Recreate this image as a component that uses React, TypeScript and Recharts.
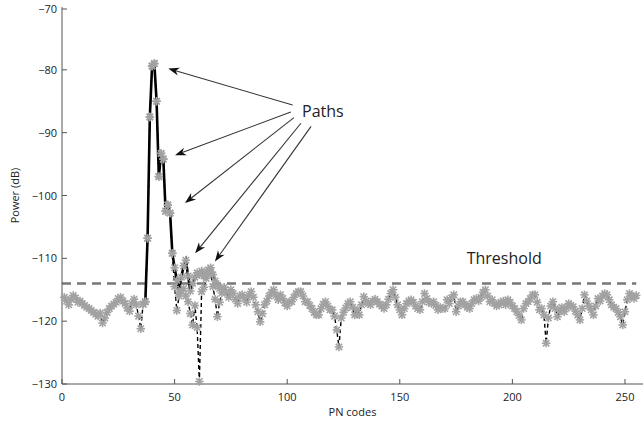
import { LineChart, Line, XAxis, YAxis, ReferenceLine, ReferenceDot } from "recharts";

// received power per PN code (codes 1..255)
const measured = [
  -116.2, -116.8, -117.4, -116.5, -115.9, -116.3, -117.0, -116.8, -117.2, -117.5,
  -117.8, -118.0, -118.3, -118.6, -118.9, -119.2, -118.7, -120.3, -119.5, -118.6,
  -118.0, -117.6, -117.3, -117.0, -116.4, -116.2, -116.8, -117.2, -117.9, -118.4,
  -117.2, -116.5, -117.4, -119.2, -121.2, -117.3, -116.9, -106.8, -87.5, -79.4,
  -79.0, -85.0, -97.0, -93.3, -94.2, -102.5, -101.5, -102.8, -109.2, -114.5,
  -118.3, -116.0, -115.2, -114.8, -116.0, -116.9, -118.8, -120.6, -117.5, -121.0,
  -129.6, -115.3, -114.6, -113.2, -112.5, -112.2, -114.5, -116.5, -119.3, -117.0,
  -115.5, -114.6, -115.4, -116.2, -115.0, -115.6, -116.5, -117.2, -116.0, -115.8,
  -116.4, -117.0, -115.9, -115.3, -116.2, -117.4, -118.5, -120.1, -118.8, -117.4,
  -116.8, -116.0, -115.4, -115.0, -115.9, -116.6, -115.8, -116.4, -117.1, -117.6,
  -116.9, -116.9, -116.2, -115.6, -115.3, -115.3, -116.0, -116.9, -116.9, -117.5,
  -118.0, -118.6, -119.0, -119.0, -118.0, -117.3, -116.9, -117.6, -118.2, -118.2,
  -119.2, -121.4, -124.1, -119.5, -118.6, -117.9, -117.2, -116.9, -117.8, -119.0,
  -118.2, -119.0, -117.4, -116.1, -116.8, -117.2, -117.4, -116.8, -116.5, -116.9,
  -117.3, -117.6, -118.0, -117.4, -116.5, -115.6, -115.0, -116.2, -117.4, -118.2,
  -119.0, -118.0, -117.2, -116.8, -116.6, -117.0, -117.6, -118.0, -118.2, -116.9,
  -115.6, -116.4, -117.0, -117.2, -116.9, -117.5, -118.2, -117.8, -118.0, -118.0,
  -116.6, -117.2, -116.3, -115.8, -118.5, -117.6, -116.9, -116.9, -117.4, -117.8,
  -118.0, -117.2, -116.6, -116.4, -116.8, -116.2, -115.4, -115.0, -116.0, -116.9,
  -116.6, -117.2, -117.6, -117.4, -117.0, -116.8, -117.4, -116.6, -117.0, -117.6,
  -118.0, -118.5, -119.1, -119.8, -118.0, -117.2, -116.9, -116.4, -115.8, -115.8,
  -117.0, -118.2, -118.0, -119.0, -123.5, -119.5, -117.6, -116.9, -118.0, -119.3,
  -118.4, -117.8, -118.5, -117.9, -117.2, -117.5, -117.7, -118.4, -119.0, -119.8,
  -118.0, -115.8, -116.8, -117.6, -118.2, -119.0, -117.6, -116.4, -116.8, -116.0,
  -115.6, -115.8, -116.6, -117.4, -117.8, -118.0, -118.6, -119.3, -120.6, -118.5,
  -116.6, -115.6, -116.0, -116.4, -115.9,
];

// resolved multipath profile, codes 36..70
const pathCodes = [
  36, 37, 38, 39, 40, 41, 42, 43, 44, 45, 46, 47, 48, 49, 50, 51, 52, 53,
  54, 55, 56, 57, 58, 59, 60, 61, 62, 63, 64, 65, 66, 67, 68, 69, 70,
];
const pathValues = [
  -117.3, -116.9, -106.8, -87.5, -79.4, -79.0, -85.0, -97.0, -93.3, -94.2,
  -102.5, -101.5, -102.8, -109.2, -111.5, -113.5, -115.3, -113.0, -111.2, -110.3,
  -112.8, -115.2, -114.0, -113.0, -112.3, -112.6, -112.0, -112.8, -112.5, -111.8,
  -111.5, -112.6, -113.6, -114.3, -114.8,
];

const threshold = -114;
const xTicks = [0, 50, 100, 150, 200, 250];
const yTicks = [-130, -120, -110, -100, -90, -80, -70];

// annotation arrows: from the "Paths" label to each path peak
const arrowFrom = [
  { x: 102.4, y: -85.6 },
  { x: 101.6, y: -86.7 },
  { x: 103.0, y: -87.6 },
  { x: 106.1, y: -88.5 },
  { x: 110.6, y: -89.0 },
];
const arrowTo = [
  { x: 47.2, y: -79.8 },
  { x: 50.2, y: -93.6 },
  { x: 54.6, y: -101.2 },
  { x: 59.1, y: -109.2 },
  { x: 67.9, y: -110.5 },
];

const rows = measured.map((v, i) => {
  const code = i + 1;
  const k = pathCodes.indexOf(code);
  return { code, measured: v, path: k >= 0 ? pathValues[k] : null };
});

const FONT = "'Open Sans', sans-serif";
const AXIS = "#555";

const minus = (v: number) => (v < 0 ? "\u2212" + Math.abs(v) : String(v));

const Star = (props: any) => {
  const { cx, cy, value, index } = props;
  if (cx == null || cy == null || value == null) return <g key={`s-${index}`} />;
  const a = 3.2;
  const b = 4.2;
  return (
    <g key={`s-${index}`} stroke="#a2a2a2" strokeWidth={1.6}>
      <line x1={cx - a} y1={cy - a} x2={cx + a} y2={cy + a} />
      <line x1={cx - a} y1={cy + a} x2={cx + a} y2={cy - a} />
      <line x1={cx} y1={cy - b} x2={cx} y2={cy + b} />
      <line x1={cx - b} y1={cy} x2={cx + b} y2={cy} />
    </g>
  );
};

const BottomTick = (props: any) => {
  const { x, y, payload } = props;
  return (
    <g>
      <line x1={x} y1={y} x2={x} y2={y - 5} stroke={AXIS} />
      <text x={x} y={y + 17} textAnchor="middle" fontSize={11} fontFamily={FONT} fill="#222">
        {payload.value}
      </text>
    </g>
  );
};

const TopTick = (props: any) => {
  const { x, y } = props;
  return <line x1={x} y1={y} x2={x} y2={y + 5} stroke={AXIS} />;
};

const LeftTick = (props: any) => {
  const { x, y, payload } = props;
  return (
    <g>
      <line x1={x} y1={y} x2={x + 5} y2={y} stroke={AXIS} />
      <text x={x - 5} y={y + 4} textAnchor="end" fontSize={11} fontFamily={FONT} fill="#222">
        {minus(payload.value)}
      </text>
    </g>
  );
};

const RightTick = (props: any) => {
  const { x, y } = props;
  return <line x1={x} y1={y} x2={x - 5} y2={y} stroke={AXIS} />;
};

const Arrow = (props: any) => {
  const { x1, y1, x2, y2 } = props;
  if ([x1, y1, x2, y2].some((v) => v == null)) return <g />;
  const ang = Math.atan2(y2 - y1, x2 - x1);
  const len = 11;
  const half = 4;
  const cos = Math.cos(ang);
  const sin = Math.sin(ang);
  const bx = x2 - len * cos;
  const by = y2 - len * sin;
  const nx = x2 - len * 0.7 * cos;
  const ny = y2 - len * 0.7 * sin;
  const pts = [
    [x2, y2],
    [bx - half * sin, by + half * cos],
    [nx, ny],
    [bx + half * sin, by - half * cos],
  ]
    .map((p) => p.join(","))
    .join(" ");
  return (
    <g>
      <line x1={x1} y1={y1} x2={nx} y2={ny} stroke="#333" strokeWidth={1.1} />
      <polygon points={pts} fill="#111" />
    </g>
  );
};

const Note = (text: string) => (props: any) => (
  <text x={props.cx} y={props.cy} fontSize={16} fontFamily={FONT} fill="#222">
    {text}
  </text>
);

export default function App() {
  return (
    <div style={{ position: "absolute", left: 0, top: 0, width: 644, height: 424, background: "#fff" }}>
      <LineChart width={644} height={424} data={rows} margin={{ top: 7, right: 1, bottom: 0, left: 0 }}>
        <XAxis
          dataKey="code"
          type="number"
          domain={[0, 258]}
          ticks={xTicks}
          height={40}
          tickSize={0}
          tickMargin={0}
          tickLine={false}
          axisLine={{ stroke: AXIS }}
          tick={<BottomTick />}
          label={(p: any) => (
            <text
              x={p.viewBox.x + p.viewBox.width / 2}
              y={p.viewBox.y + 32}
              textAnchor="middle"
              fontSize={11}
              fontFamily={FONT}
              fill="#222"
            >
              PN codes
            </text>
          )}
        />
        <XAxis
          xAxisId="top"
          orientation="top"
          dataKey="code"
          type="number"
          domain={[0, 258]}
          ticks={xTicks}
          height={0}
          tickSize={0}
          tickMargin={0}
          tickLine={false}
          axisLine={{ stroke: AXIS }}
          tick={<TopTick />}
        />
        <YAxis
          type="number"
          domain={[-130, -70]}
          ticks={yTicks}
          width={62}
          tickSize={0}
          tickMargin={0}
          tickLine={false}
          axisLine={{ stroke: AXIS }}
          tick={<LeftTick />}
          label={(p: any) => {
            const cx = 14;
            const cy = p.viewBox.y + p.viewBox.height / 2;
            return (
              <text
                x={cx}
                y={cy}
                transform={`rotate(-90 ${cx} ${cy})`}
                textAnchor="middle"
                dominantBaseline="central"
                fontSize={11}
                fontFamily={FONT}
                fill="#222"
              >
                Power (dB)
              </text>
            );
          }}
        />
        <YAxis
          yAxisId="right"
          orientation="right"
          type="number"
          domain={[-130, -70]}
          ticks={yTicks}
          width={0}
          tickSize={0}
          tickMargin={0}
          tickLine={false}
          axisLine={{ stroke: AXIS }}
          tick={<RightTick />}
        />
        <ReferenceLine
          segment={[
            { x: 0, y: threshold },
            { x: 255, y: threshold },
          ]}
          stroke="#777"
          strokeWidth={2.6}
          strokeDasharray="9 6"
        />
        <Line
          dataKey="measured"
          stroke="none"
          dot={Star}
          activeDot={false}
          isAnimationActive={false}
        />
        <Line
          dataKey="path"
          stroke="none"
          dot={Star}
          activeDot={false}
          isAnimationActive={false}
        />
        <Line
          dataKey="measured"
          stroke="#000"
          strokeWidth={1.4}
          strokeDasharray="4 3"
          dot={false}
          activeDot={false}
          isAnimationActive={false}
        />
        <Line
          dataKey="path"
          stroke="#000"
          strokeWidth={2.6}
          dot={false}
          activeDot={false}
          isAnimationActive={false}
        />
        {arrowFrom.map((s, i) => (
          <ReferenceLine key={`a-${i}`} segment={[s, arrowTo[i]]} shape={Arrow} />
        ))}
        <ReferenceDot x={106.6} y={-87.5} r={0} shape={Note("Paths")} />
        <ReferenceDot x={179.7} y={-110.9} r={0} shape={Note("Threshold")} />
      </LineChart>
    </div>
  );
}
